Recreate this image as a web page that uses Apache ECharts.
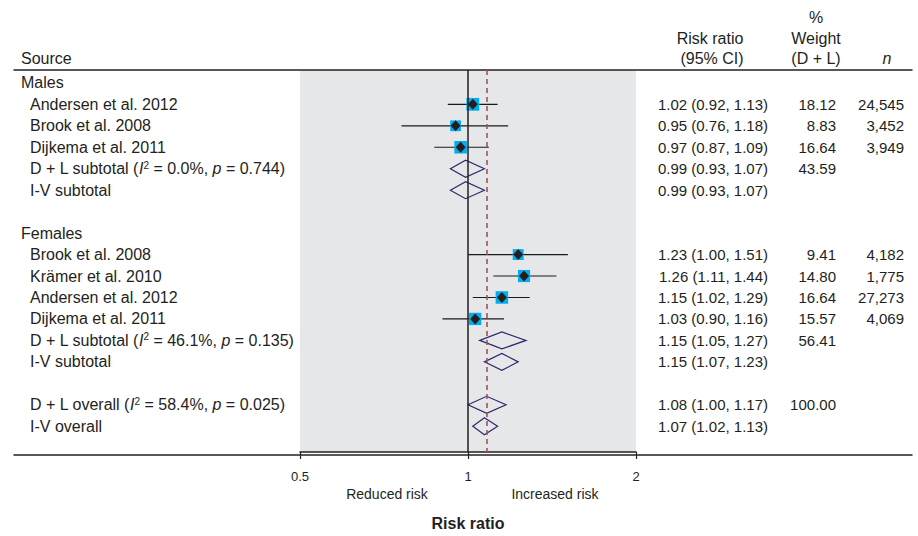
<!DOCTYPE html>
<html>
<head>
<meta charset="utf-8">
<script src="https://cdn.jsdelivr.net/npm/echarts@6/dist/echarts.min.js"></script>
<style>html,body{margin:0;padding:0;background:#fff}#chart{width:918px;height:536px}</style>
</head>
<body>
<div id="chart"></div>
<script>
// ---- data ----
const sourceLabels = ['Males','Andersen et al. 2012','Brook et al. 2008','Dijkema et al. 2011','D + L subtotal','I-V subtotal','',
  'Females','Brook et al. 2008','Krämer et al. 2010','Andersen et al. 2012','Dijkema et al. 2011','D + L subtotal','I-V subtotal','',
  'D + L overall','I-V overall'];
const rowKind = ['group','study','study','study','pooled','pooled','',
  'group','study','study','study','study','pooled','pooled','',
  'pooled','pooled'];
const hetI2 = [null,null,null,null,'0.0%',null,null,null,null,null,null,null,'46.1%',null,null,'58.4%',null];
const hetP  = [null,null,null,null,'0.744',null,null,null,null,null,null,null,'0.135',null,null,'0.025',null];
const riskRatio = [null,1.02,0.95,0.97,0.99,0.99,null,null,1.23,1.26,1.15,1.03,1.15,1.15,null,1.08,1.07];
const ciLower   = [null,0.92,0.76,0.87,0.93,0.93,null,null,1.00,1.11,1.02,0.90,1.05,1.07,null,1.00,1.02];
const ciUpper   = [null,1.13,1.18,1.09,1.07,1.07,null,null,1.51,1.44,1.29,1.16,1.27,1.23,null,1.17,1.13];
const weightDL  = [null,18.12,8.83,16.64,43.59,null,null,null,9.41,14.80,16.64,15.57,56.41,null,null,100.00,null];
const sampleN   = ['','24,545','3,452','3,949','','','','','4,182','1,775','27,273','4,069','','','','',''];
const xTickLabels = ['0.5', '1', '2'];
const nullValue = 1;
const overallIndex = 15; // D + L overall estimate (dashed line)

// ---- styling ----
const FONT = "'Liberation Sans', Arial, sans-serif";
const INK = '#231f20';
const rowIdx = sourceLabels.map((_, i) => i);

const studyRows = rowIdx.filter(i => rowKind[i] === 'study');
const pooledRows = rowIdx.filter(i => rowKind[i] === 'pooled');
const labelRows = rowIdx.filter(i => sourceLabels[i] !== '');
const ciRows = rowIdx.filter(i => riskRatio[i] != null);
const weightRows = rowIdx.filter(i => weightDL[i] != null);
const nRows = rowIdx.filter(i => sampleN[i] !== '');

const yBase = {gridIndex: 0, type: 'value', inverse: true, min: -0.6, max: 17.2,
  axisLine: {show: false, onZero: false}, axisTick: {show: false}, splitLine: {show: false}};

function leftLabel(v) {
  const i = Math.round(v);
  const t = sourceLabels[i];
  if (!t) return '';
  if (rowKind[i] === 'group') return '{g|' + t + '}';
  if (hetI2[i] != null) {
    return '{s|' + t + ' (}{it|I}{sup|2}{t| = ' + hetI2[i] + ', }{it|p}{t| = ' + hetP[i] + ')}';
  }
  return '{s|' + t + '}';
}
function xLabel(v) {
  const hit = xTickLabels.find(s => Math.abs(parseFloat(s) - v) < 1e-6);
  return hit || '';
}
const base = {fontSize: 16, fontFamily: FONT, color: INK};

const option = {
  animation: false,
  backgroundColor: '#ffffff',
  textStyle: {fontFamily: FONT, color: INK},
  grid: [
    {left: 300, width: 336, top: 70, height: 385, show: true, backgroundColor: '#e6e7e8', borderWidth: 0},
    {left: 14, right: 6, top: 70, height: 385, show: false}
  ],
  xAxis: [
    {gridIndex: 0, type: 'log', logBase: 2, min: 0.5, max: 2, position: 'bottom', splitNumber: 2,
      axisLine: {show: true, onZero: false, lineStyle: {color: INK, width: 1.5}},
      axisTick: {show: true, inside: false, length: 7, lineStyle: {color: INK, width: 1.2}},
      axisLabel: {formatter: xLabel, margin: 18, fontSize: 13, color: INK, fontFamily: FONT},
      splitLine: {show: false}, minorTick: {show: false},
      name: 'Risk ratio', nameLocation: 'middle', nameGap: 63,
      nameTextStyle: {fontWeight: 'bold', fontSize: 16, color: INK, fontFamily: FONT}},
    {gridIndex: 1, type: 'value', position: 'bottom', min: 0, max: 1,
      axisLine: {show: true, onZero: false, lineStyle: {color: INK, width: 1.5}},
      axisTick: {show: false}, axisLabel: {show: false}, splitLine: {show: false}},
    {gridIndex: 1, type: 'value', position: 'top', min: 0, max: 1,
      axisLine: {show: true, onZero: false, lineStyle: {color: INK, width: 1.5}},
      axisTick: {show: false}, axisLabel: {show: false}, splitLine: {show: false}}
  ],
  yAxis: [
    Object.assign({}, yBase, {position: 'left',
      axisLabel: {customValues: labelRows, formatter: leftLabel, align: 'left', margin: 279,
        fontSize: 16, fontFamily: FONT, color: INK,
        rich: {
          g: Object.assign({}, base),
          s: Object.assign({}, base, {padding: [0, 0, 0, 9]}),
          t: Object.assign({}, base),
          it: Object.assign({}, base, {fontStyle: 'italic'}),
          sup: Object.assign({}, base, {fontSize: 10, padding: [0, 0, 7, 0]})
        }}}),
    Object.assign({}, yBase, {position: 'right',
      axisLabel: {customValues: ciRows, align: 'right', margin: 132, fontSize: 15, fontFamily: FONT, color: INK,
        formatter: v => { const i = Math.round(v); return riskRatio[i] == null ? '' :
          riskRatio[i].toFixed(2) + ' (' + ciLower[i].toFixed(2) + ', ' + ciUpper[i].toFixed(2) + ')'; }}}),
    Object.assign({}, yBase, {position: 'right',
      axisLabel: {customValues: weightRows, align: 'right', margin: 200, fontSize: 15, fontFamily: FONT, color: INK,
        formatter: v => { const i = Math.round(v); return weightDL[i] == null ? '' : weightDL[i].toFixed(2); }}}),
    Object.assign({}, yBase, {position: 'right',
      axisLabel: {customValues: nRows, align: 'right', margin: 268, fontSize: 15, fontFamily: FONT, color: INK,
        formatter: v => sampleN[Math.round(v)] || ''}}),
    {gridIndex: 1, type: 'value', show: false, min: 0, max: 1}
  ],
  series: [
    {
      type: 'line', xAxisIndex: 0, yAxisIndex: 0, data: [], z: 1, silent: true,
      markLine: {
        symbol: 'none', silent: true, animation: false, label: {show: false},
        data: [
          {xAxis: nullValue, lineStyle: {color: INK, width: 1.5, type: 'solid'}},
          {xAxis: riskRatio[overallIndex], lineStyle: {color: '#a3525c', width: 1.6, type: [5, 4]}}
        ]
      }
    },
    {
      type: 'custom', xAxisIndex: 0, yAxisIndex: 0, z: 3, silent: true,
      encode: {x: [0, 1], y: 2},
      data: studyRows.map(i => [ciLower[i], ciUpper[i], i]),
      renderItem: (params, api) => {
        const a = api.coord([api.value(0), api.value(2)]);
        const b = api.coord([api.value(1), api.value(2)]);
        return {type: 'line', shape: {x1: a[0], y1: a[1], x2: b[0], y2: b[1]},
          style: {stroke: '#1a1a1a', lineWidth: 1.2}};
      }
    },
    {
      type: 'scatter', xAxisIndex: 0, yAxisIndex: 0, z: 4, silent: true,
      symbol: 'rect',
      symbolSize: v => 6 + 1.6 * Math.sqrt(v[2]),
      itemStyle: {color: '#00aeef', opacity: 1},
      data: studyRows.map(i => [riskRatio[i], i, weightDL[i]])
    },
    {
      type: 'scatter', xAxisIndex: 0, yAxisIndex: 0, z: 5, silent: true,
      symbol: 'diamond', symbolSize: [10, 11],
      itemStyle: {color: INK, opacity: 1},
      data: studyRows.map(i => [riskRatio[i], i])
    },
    {
      type: 'custom', xAxisIndex: 0, yAxisIndex: 0, z: 4, silent: true,
      encode: {x: [0, 1, 2], y: 3},
      data: pooledRows.map(i => [riskRatio[i], ciLower[i], ciUpper[i], i]),
      renderItem: (params, api) => {
        const c = api.coord([api.value(0), api.value(3)]);
        const l = api.coord([api.value(1), api.value(3)]);
        const h = api.coord([api.value(2), api.value(3)]);
        const hh = 8.5;
        return {type: 'polygon',
          shape: {points: [[l[0], c[1]], [c[0], c[1] - hh], [h[0], c[1]], [c[0], c[1] + hh]]},
          style: {fill: 'none', stroke: '#2b2a6b', lineWidth: 1.2}};
      }
    }
  ],
  graphic: [
    {type: 'text', x: 21, y: 58, style: {text: 'Source', font: '16px ' + FONT, fill: INK, align: 'left', verticalAlign: 'middle', textAlign: 'left', textVerticalAlign: 'middle'}},
    {type: 'text', x: 710, y: 38, style: {text: 'Risk ratio', font: '16px ' + FONT, fill: INK, align: 'center', verticalAlign: 'middle', textAlign: 'center', textVerticalAlign: 'middle'}},
    {type: 'text', x: 712, y: 58, style: {text: '(95% CI)', font: '16px ' + FONT, fill: INK, align: 'center', verticalAlign: 'middle', textAlign: 'center', textVerticalAlign: 'middle'}},
    {type: 'text', x: 816, y: 17, style: {text: '%', font: '16px ' + FONT, fill: INK, align: 'center', verticalAlign: 'middle', textAlign: 'center', textVerticalAlign: 'middle'}},
    {type: 'text', x: 816, y: 38, style: {text: 'Weight', font: '16px ' + FONT, fill: INK, align: 'center', verticalAlign: 'middle', textAlign: 'center', textVerticalAlign: 'middle'}},
    {type: 'text', x: 816, y: 58, style: {text: '(D + L)', font: '16px ' + FONT, fill: INK, align: 'center', verticalAlign: 'middle', textAlign: 'center', textVerticalAlign: 'middle'}},
    {type: 'text', x: 887, y: 58, style: {text: 'n', font: 'italic 16px ' + FONT, fill: INK, align: 'center', verticalAlign: 'middle', textAlign: 'center', textVerticalAlign: 'middle'}},
    {type: 'text', x: 387, y: 494, style: {text: 'Reduced risk', font: '14px ' + FONT, fill: INK, align: 'center', verticalAlign: 'middle', textAlign: 'center', textVerticalAlign: 'middle'}},
    {type: 'text', x: 555, y: 494, style: {text: 'Increased risk', font: '14px ' + FONT, fill: INK, align: 'center', verticalAlign: 'middle', textAlign: 'center', textVerticalAlign: 'middle'}}
  ]
};

const chart = echarts.init(document.getElementById('chart'), null, {renderer: 'svg'});
chart.setOption(option);
</script>
</body>
</html>
